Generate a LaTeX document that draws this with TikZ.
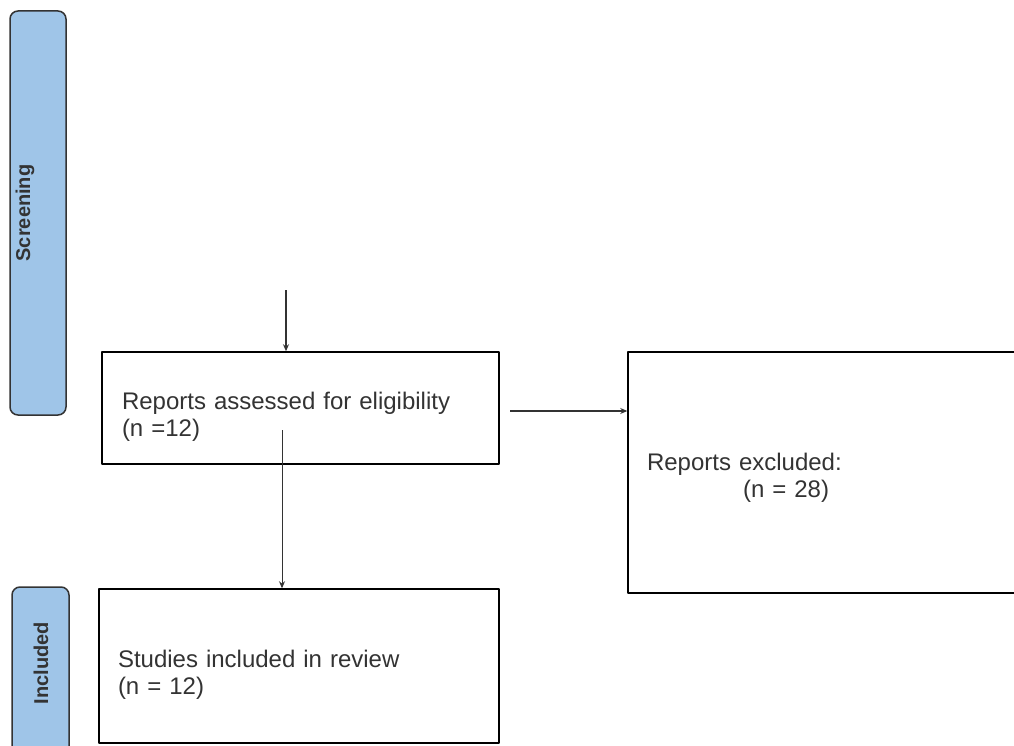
\documentclass[tikz,border=0pt]{standalone}
\usepackage{fontspec}
\setmainfont{Liberation Sans}
\usetikzlibrary{arrows.meta}
\definecolor{phaseblue}{HTML}{9FC5E8}
\definecolor{inkgrey}{HTML}{333333}
\tikzset{
	phasebar/.style={draw=inkgrey,fill=phaseblue,line width=1.5pt,rounded corners=8pt,rotate=90,inner sep=0pt},
	phaselabel/.style={rotate=90,inner sep=0pt,font=\fontsize{20}{22}\selectfont\bfseries,text=inkgrey},
	flowbox/.style={draw=black,line width=1.5pt,align=left,inner ysep=0pt,font=\fontsize{24}{27}\selectfont,text=inkgrey}
}
\begin{document}
\begin{tikzpicture}[x=1pt,y=-1pt,>={Stealth[length=7pt,width=6pt]},line join=round]
	\useasboundingbox (0,0) rectangle (1014,746);
	\clip (0,0) rectangle (1014,746);
	% phase bars
	\node[phasebar,minimum width=404,minimum height=56] (screening) at (38,213){};
	\node[phaselabel] (screeningtext) at (25,213){Screening};
	\node[phasebar,minimum width=180,minimum height=57] (included) at (40.5,677){};
	\node[phaselabel] (includedtext) at (41,663){Included};
	% boxes
	\node[flowbox,text width=357,inner xsep=20,minimum height=112,text height=34] (reports) at (300.5,408){Reports assessed for eligibility\\(n =12)};
	\node[flowbox,text width=364,inner xsep=19,minimum height=241,text height=28] (excluded) at (829,472.5){Reports excluded:\\\hspace*{96pt}(n = 28)};
	\node[flowbox,text width=362,inner xsep=19,minimum height=154,text height=34] (studies) at (299,666){Studies included in review\\(n = 12)};
	% arrows
	\coordinate (topstart) at (286,290);
	\coordinate (downstart) at (282,430);
	\coordinate (sidestart) at (510,411);
	\draw[->,line width=1.8pt,draw=inkgrey] (topstart)--(topstart|-reports.north);
	\draw[->,line width=1pt,draw=inkgrey] (downstart)--(downstart|-studies.north);
	\draw[->,line width=1.8pt,draw=inkgrey] (sidestart)--(sidestart-|excluded.west);
\end{tikzpicture}
\end{document}
